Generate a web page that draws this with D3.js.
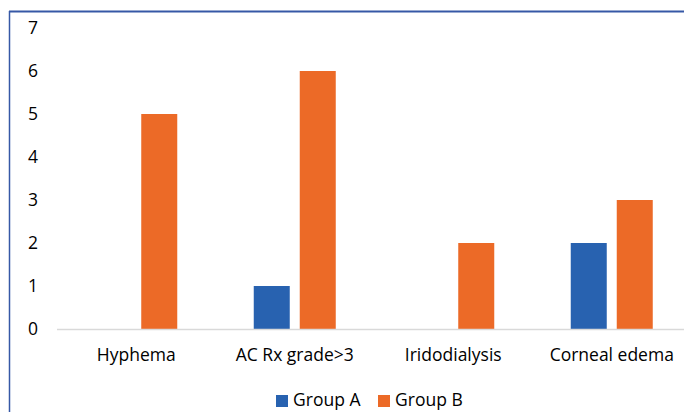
<!DOCTYPE html>
<html>
<head>
<meta charset="utf-8">
<script src="https://cdn.jsdelivr.net/npm/d3@7"></script>
<style>
  html, body { margin: 0; padding: 0; background: #fff; }
  svg { display: block; font-family: "Open Sans", "Liberation Sans", sans-serif; }
</style>
</head>
<body>
<svg id="chart" width="684" height="412"></svg>
<script>
// Complications by group
const categories = ["Hyphema", "AC Rx grade>3", "Iridodialysis", "Corneal edema"];
const seriesNames = ["Group A", "Group B"];
const groupA = [0, 1, 0, 2];
const groupB = [5, 6, 2, 3];
const yTicks = [0, 1, 2, 3, 4, 5, 6, 7];
const colors = ["#2862b0", "#ec6a27"];

const svg = d3.select("#chart");
const W = 684, H = 412;
const fontSize = 17.5;

// frame lines (top and left)
svg.append("line").attr("x1", 9).attr("x2", W).attr("y1", 11.5).attr("y2", 11.5)
  .attr("stroke", "#3658a6").attr("stroke-width", 2);
svg.append("line").attr("x1", 9.5).attr("x2", 9.5).attr("y1", 11).attr("y2", H)
  .attr("stroke", "#3658a6").attr("stroke-width", 1.5);

const x0 = d3.scaleBand().domain(categories).range([57, 691]);
const y = d3.scaleLinear().domain([0, 7]).range([329, 28]);

const barW = 36, gap = 10;
const values = [groupA, groupB];

// y tick labels
svg.append("g").selectAll("text").data(yTicks).join("text")
  .attr("x", 38).attr("y", d => y(d)).attr("dy", "0.35em")
  .attr("text-anchor", "end").attr("font-size", fontSize).attr("fill", "#000")
  .text(d => d);

// bars
values.forEach((vals, si) => {
  svg.append("g").selectAll("rect").data(categories).join("rect")
    .attr("x", c => x0(c) + x0.bandwidth() / 2 + (si === 0 ? -gap / 2 - barW : gap / 2))
    .attr("width", barW)
    .attr("y", (c, i) => y(vals[i]))
    .attr("height", (c, i) => y(0) - y(vals[i]))
    .attr("fill", colors[si]);
});

// baseline
svg.append("line").attr("x1", 57).attr("x2", W).attr("y1", y(0) + 0.5).attr("y2", y(0) + 0.5)
  .attr("stroke", "#d9d9d9").attr("stroke-width", 1.5);

// category labels
svg.append("g").selectAll("text").data(categories).join("text")
  .attr("x", c => x0(c) + x0.bandwidth() / 2).attr("y", 361)
  .attr("text-anchor", "middle").attr("font-size", fontSize).attr("fill", "#000")
  .text(c => c);

// legend
const legendX = [276, 378];
seriesNames.forEach((name, i) => {
  svg.append("rect").attr("x", legendX[i]).attr("y", 395).attr("width", 12).attr("height", 12)
    .attr("fill", colors[i]);
  svg.append("text").attr("x", legendX[i] + 17).attr("y", 406)
    .attr("font-size", fontSize).attr("fill", "#000").text(name);
});
</script>
</body>
</html>
